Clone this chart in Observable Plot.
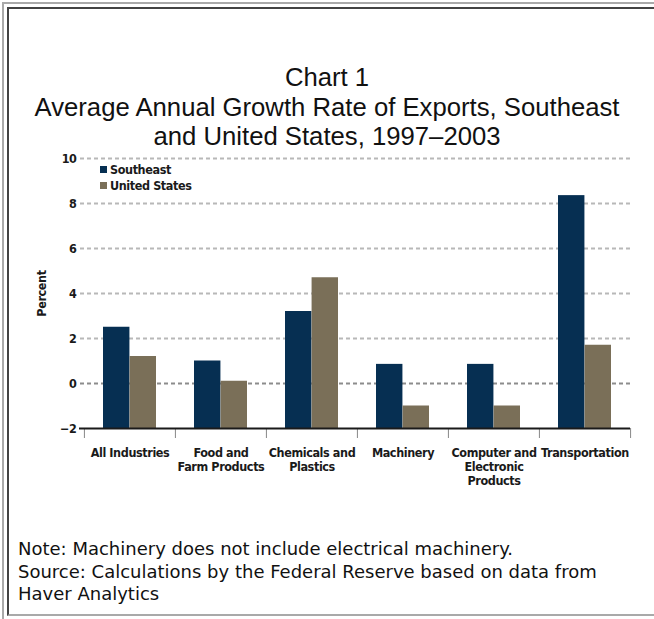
<!DOCTYPE html>
<html>
<head>
<meta charset="utf-8">
<script src="https://cdn.jsdelivr.net/npm/d3@7"></script>
<script src="https://cdn.jsdelivr.net/npm/@observablehq/plot@0.6"></script>
<style>
  body { margin: 0; background: #fff; }
  #page { position: relative; width: 654px; height: 619px; overflow: hidden; background: #fff; }
  .b1 { position: absolute; left: 2px; top: 2px; width: 700px; height: 700px; border-left: 2px solid #a9a9a9; border-top: 2px solid #a9a9a9; }
  .b2 { position: absolute; left: 7px; top: 7px; width: 700px; height: 605px; border-left: 2px solid #424242; border-top: 2px solid #424242; border-bottom: 2px solid #a9a9a9; }
  #title { position: absolute; left: 0; top: 63px; width: 654px; text-align: center; font-family: "Liberation Sans", Arial, sans-serif; font-size: 25.7px; line-height: 29.5px; color: #111; }
  #chart { position: absolute; left: 0; top: 140px; }
  .cond { font-family: "Liberation Sans Narrow", "Arial Narrow", "DejaVu Sans Condensed", sans-serif; font-stretch: condensed; font-weight: bold; letter-spacing: -0.4px; }
  #legend { position: absolute; left: 100px; top: 162px; font-size: 12.5px; color: #1a1a1a; line-height: 16px; }
  #legend .sw { display: inline-block; width: 7px; height: 7px; margin-right: 3px; vertical-align: 1px; }
  #foot { position: absolute; left: 18px; top: 538px; font-family: "DejaVu Sans", sans-serif; font-size: 18px; line-height: 22.5px; color: #111; white-space: nowrap; }
</style>
</head>
<body>
<div id="page">
  <div class="b1"></div>
  <div class="b2"></div>
  <div id="title">Chart 1<br>Average Annual Growth Rate of Exports, Southeast<br>and United States, 1997–2003</div>
  <div id="chart"></div>
  <div id="legend" class="cond"></div>
  <div id="foot">Note: Machinery does not include electrical machinery.<br>Source: Calculations by the Federal Reserve based on data from<br>Haver Analytics</div>
</div>
<script>
const categories = ["All Industries", "Food and Farm Products", "Chemicals and Plastics", "Machinery", "Computer and Electronic Products", "Transportation"];
const tickLabels = ["All Industries", "Food and\nFarm Products", "Chemicals and\nPlastics", "Machinery", "Computer and\nElectronic\nProducts", "Transportation"];
const seriesNames = ["Southeast", "United States"];
const southeast = [2.5, 1.0, 3.2, 0.85, 0.85, 8.35];
const unitedStates = [1.2, 0.1, 4.7, -1.0, -1.0, 1.7];
const yTicks = [-2, 0, 2, 4, 6, 8, 10];
const seriesColors = ["#062f52", "#7a6f58"];

const W = 654, H = 348, mL = 83, mR = 24, mT = 18, mB = 60;
const bw = (W - mL - mR) / categories.length;

const rowsSE = categories.map((c, i) => ({category: c, value: southeast[i]}));
const rowsUS = categories.map((c, i) => ({category: c, value: unitedStates[i]}));

const chart = Plot.plot({
  width: W, height: H,
  marginTop: mT, marginBottom: mB, marginLeft: mL, marginRight: mR,
  style: {fontFamily: '"Liberation Sans Narrow", "Arial Narrow", "DejaVu Sans Condensed", sans-serif', fontSize: "12.5px", fontWeight: "bold", letterSpacing: "-0.4px", color: "#1a1a1a", background: "transparent"},
  x: {domain: categories, padding: 0},
  y: {domain: [yTicks[0], yTicks[yTicks.length - 1]]},
  marks: [
    Plot.ruleY(yTicks.filter(d => d > yTicks[0]), {y: d => d, stroke: d => d === 0 ? "#8c8c8c" : "#b8b8b8", strokeWidth: 2, strokeDasharray: "4,3", insetLeft: -3}),
    Plot.barY(rowsSE, {x: "category", y1: yTicks[0], y2: "value", fill: seriesColors[0], insetLeft: 19, insetRight: bw / 2}),
    Plot.barY(rowsUS, {x: "category", y1: yTicks[0], y2: "value", fill: seriesColors[1], insetLeft: bw / 2, insetRight: 19}),
    Plot.ruleX(categories, {x: d => d, dx: -bw / 2, y1: yTicks[0], y2: yTicks[0], insetBottom: -10, stroke: "#888", strokeWidth: 1}),
    Plot.ruleX(categories.slice(-1), {x: d => d, dx: bw / 2, y1: yTicks[0], y2: yTicks[0], insetBottom: -10, stroke: "#888", strokeWidth: 1}),
    Plot.ruleY([yTicks[0]], {stroke: "#1a1a1a", strokeWidth: 2, insetLeft: -4}),
    Plot.axisX({tickSize: 0, tickPadding: 19, tickFormat: d => tickLabels[categories.indexOf(d)], lineHeight: 1.12, label: null}),
    Plot.axisY({ticks: yTicks, tickSize: 0, tickPadding: 7, label: "Percent", labelAnchor: "center", labelOffset: 46, labelArrow: "none"})
  ]
});
document.getElementById("chart").appendChild(chart);

const legend = document.getElementById("legend");
seriesNames.forEach((name, i) => {
  const row = document.createElement("div");
  const sw = document.createElement("span");
  sw.className = "sw";
  sw.style.background = seriesColors[i];
  row.appendChild(sw);
  row.appendChild(document.createTextNode(name));
  legend.appendChild(row);
});
</script>
</body>
</html>
